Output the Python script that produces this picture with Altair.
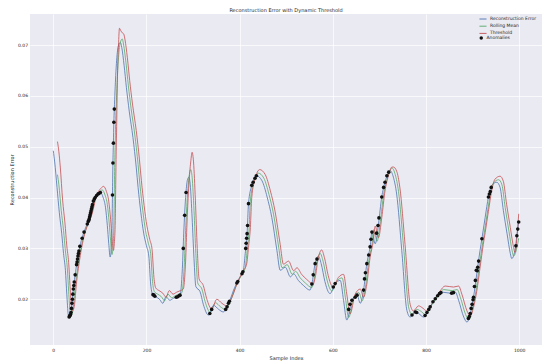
import altair as alt
import pandas as pd

# Reconstruction error (sample index, value)
recon_idx = [0, 3, 8, 13, 18, 22, 26, 29, 32, 34, 38, 43, 48, 54, 60, 65, 70, 76, 80, 85, 90, 95, 101, 107, 112, 116, 119, 122, 124, 126, 127, 128, 129, 130, 131, 134, 138, 141, 144, 147, 152, 157, 163, 171, 178, 182, 188, 194, 200, 205, 209, 213, 220, 228, 235, 242, 250, 258, 266, 272, 277, 280, 284, 288, 291, 294, 298, 302, 306, 315, 322, 333, 344, 355, 365, 373, 380, 387, 394, 401, 408, 412, 416, 419, 426, 436, 448, 459, 469, 480, 487, 498, 509, 516, 526, 537, 551, 555, 562, 569, 575, 583, 590, 594, 605, 616, 623, 630, 641, 652, 659, 666, 673, 680, 684, 691, 698, 705, 712, 720, 723, 730, 737, 748, 759, 766, 777, 784, 795, 809, 823, 834, 852, 863, 870, 881, 888, 895, 902, 909, 916, 920, 927, 934, 941, 952, 959, 966, 974, 981, 984, 991, 995, 999]
recon_val = [.0492, .0470, .0420, .0370, .0330, .0290, .0257, .0210, .0170, .0163, .0172, .0220, .0255, .0290, .0315, .0330, .0342, .0355, .0370, .0390, .0400, .0406, .0410, .0400, .0381, .0345, .0310, .0283, .0295, .0339, .0405, .0468, .0507, .0548, .0574, .0640, .0690, .0702, .0705, .0695, .0660, .0616, .0570, .0518, .0460, .0420, .0370, .0330, .0305, .0285, .0230, .0210, .0205, .0200, .0192, .0205, .0198, .0202, .0205, .0208, .0260, .0330, .0400, .0435, .0440, .0425, .0360, .0280, .0225, .0215, .0190, .0169, .0188, .0180, .0175, .0185, .0200, .0218, .0232, .0244, .0257, .0290, .0329, .0388, .0424, .0443, .0433, .0401, .0361, .0296, .0257, .0263, .0244, .0250, .0237, .0227, .0218, .0230, .0270, .0285, .0270, .0235, .0215, .0211, .0231, .0237, .0198, .0159, .0198, .0208, .0192, .0218, .0270, .0303, .0332, .0309, .0348, .0401, .0430, .0450, .0453, .0440, .0407, .0296, .0178, .0165, .0175, .0172, .0165, .0185, .0204, .0214, .0212, .0214, .0198, .0165, .0155, .0172, .0204, .0250, .0296, .0319, .0361, .0401, .0424, .0430, .0420, .0375, .0329, .0290, .0280, .0296, .0325, .0352]

# Rolling mean
mean_idx = [9, 12, 17, 22, 26, 30, 33, 36, 38, 42, 47, 52, 58, 64, 69, 74, 80, 84, 89, 94, 99, 105, 111, 116, 120, 123, 126, 128, 130, 131, 132, 133, 134, 135, 138, 142, 145, 148, 151, 156, 161, 167, 175, 182, 186, 192, 198, 204, 209, 213, 217, 224, 232, 239, 246, 254, 262, 270, 276, 281, 284, 288, 292, 295, 298, 302, 306, 310, 319, 326, 337, 348, 359, 369, 377, 384, 391, 398, 405, 412, 416, 420, 423, 430, 440, 452, 463, 473, 484, 491, 502, 513, 520, 530, 541, 555, 559, 566, 573, 579, 587, 594, 598, 609, 620, 627, 634, 645, 656, 663, 670, 677, 684, 688, 695, 702, 709, 716, 724, 727, 734, 741, 752, 763, 770, 781, 788, 799, 813, 827, 838, 856, 867, 874, 885, 892, 899, 906, 913, 920, 924, 931, 938, 945, 956, 963, 970, 978, 985, 988, 995, 999]
mean_val = [.0445, .0425, .0375, .0335, .0295, .0262, .0215, .0175, .0168, .0177, .0225, .0260, .0295, .0320, .0335, .0347, .0360, .0375, .0395, .0405, .0411, .0415, .0405, .0386, .0350, .0315, .0288, .0300, .0344, .0410, .0473, .0512, .0553, .0579, .0645, .0695, .0708, .0712, .0700, .0665, .0621, .0575, .0523, .0465, .0425, .0375, .0335, .0310, .0290, .0235, .0215, .0210, .0205, .0197, .0210, .0203, .0207, .0210, .0213, .0265, .0335, .0405, .0445, .0455, .0440, .0375, .0290, .0232, .0220, .0195, .0174, .0193, .0185, .0180, .0190, .0205, .0223, .0237, .0249, .0262, .0295, .0334, .0393, .0429, .0448, .0438, .0406, .0366, .0301, .0262, .0268, .0249, .0255, .0242, .0232, .0223, .0235, .0275, .0290, .0275, .0240, .0220, .0216, .0236, .0242, .0203, .0164, .0203, .0213, .0197, .0223, .0275, .0308, .0337, .0314, .0353, .0406, .0435, .0455, .0458, .0445, .0412, .0301, .0183, .0170, .0180, .0177, .0170, .0190, .0209, .0219, .0217, .0219, .0203, .0170, .0160, .0177, .0209, .0255, .0301, .0324, .0366, .0406, .0429, .0435, .0425, .0380, .0334, .0295, .0285, .0301, .0320]

# Dynamic threshold
thr_idx = [9, 12, 15, 20, 25, 29, 33, 36, 39, 41, 45, 50, 55, 61, 67, 72, 77, 83, 87, 92, 97, 102, 108, 114, 119, 123, 126, 129, 131, 133, 134, 135, 136, 137, 138, 140, 142, 145, 148, 151, 154, 159, 164, 170, 178, 185, 189, 195, 201, 207, 212, 216, 220, 227, 235, 242, 249, 257, 265, 273, 279, 284, 287, 291, 295, 298, 301, 305, 309, 313, 322, 329, 340, 351, 362, 372, 380, 387, 394, 401, 408, 415, 419, 423, 426, 433, 443, 455, 466, 476, 487, 494, 505, 516, 523, 533, 544, 558, 562, 569, 576, 582, 590, 597, 601, 612, 623, 630, 637, 648, 659, 666, 673, 680, 687, 691, 698, 705, 712, 719, 727, 730, 737, 744, 755, 766, 773, 784, 791, 802, 816, 830, 841, 859, 870, 877, 888, 895, 902, 909, 916, 923, 927, 934, 941, 948, 959, 966, 973, 981, 988, 991, 996, 999]
thr_val = [.0510, .0490, .0460, .0395, .0350, .0305, .0272, .0225, .0185, .0177, .0186, .0234, .0268, .0302, .0327, .0342, .0354, .0367, .0382, .0402, .0412, .0418, .0422, .0412, .0393, .0357, .0322, .0296, .0310, .0355, .0425, .0490, .0540, .0600, .0650, .0700, .0733, .0728, .0724, .0722, .0710, .0675, .0630, .0584, .0532, .0474, .0434, .0384, .0344, .0318, .0298, .0243, .0222, .0217, .0212, .0204, .0217, .0210, .0214, .0217, .0220, .0275, .0350, .0425, .0470, .0489, .0470, .0395, .0300, .0240, .0227, .0202, .0181, .0200, .0192, .0187, .0197, .0212, .0230, .0244, .0256, .0269, .0302, .0341, .0400, .0436, .0455, .0445, .0413, .0373, .0308, .0269, .0275, .0256, .0262, .0249, .0239, .0230, .0242, .0282, .0297, .0282, .0247, .0227, .0223, .0243, .0249, .0210, .0171, .0210, .0220, .0204, .0230, .0282, .0315, .0344, .0321, .0360, .0413, .0442, .0460, .0460, .0452, .0419, .0308, .0190, .0177, .0187, .0184, .0177, .0197, .0216, .0226, .0224, .0226, .0210, .0177, .0167, .0184, .0216, .0262, .0308, .0331, .0373, .0413, .0436, .0442, .0432, .0387, .0341, .0302, .0292, .0330, .0368]

# Anomalies
anom_idx = [34, 35, 36, 37, 38, 39, 40, 41, 42, 43, 44, 45, 47, 50, 51, 52, 53, 54, 55, 57, 62, 66, 73, 75, 76, 77, 78, 79, 80, 81, 82, 83, 84, 86, 88, 90, 93, 96, 98, 101, 127, 128, 129, 130, 131, 214, 216, 218, 264, 267, 270, 272, 279, 282, 285, 336, 340, 370, 373, 376, 378, 394, 396, 405, 407, 413, 414, 415, 416, 417, 419, 426, 429, 433, 436, 555, 558, 562, 566, 601, 605, 634, 637, 641, 648, 652, 666, 668, 670, 673, 677, 680, 682, 684, 694, 697, 699, 705, 709, 712, 716, 720, 770, 777, 780, 798, 802, 806, 809, 815, 820, 825, 829, 832, 855, 859, 891, 893, 895, 897, 899, 901, 902, 904, 906, 908, 910, 911, 913, 920, 934, 936, 938, 940, 993, 995, 997, 999]
anom_val = [.0165, .0167, .0168, .0170, .0174, .0182, .0192, .0200, .0210, .0220, .0227, .0234, .0248, .0268, .0273, .0279, .0285, .0290, .0295, .0304, .0320, .0332, .0348, .0353, .0355, .0358, .0362, .0366, .0370, .0374, .0378, .0382, .0386, .0393, .0397, .0400, .0404, .0407, .0408, .0410, .0405, .0468, .0507, .0548, .0574, .0209, .0208, .0206, .0204, .0205, .0207, .0208, .0300, .0365, .0410, .0172, .0180, .0180, .0185, .0192, .0196, .0232, .0235, .0250, .0254, .0300, .0310, .0320, .0329, .0345, .0388, .0424, .0430, .0438, .0443, .0230, .0248, .0270, .0279, .0224, .0231, .0180, .0190, .0198, .0204, .0208, .0218, .0240, .0252, .0270, .0287, .0303, .0318, .0332, .0330, .0345, .0360, .0401, .0420, .0430, .0443, .0450, .0169, .0175, .0174, .0168, .0174, .0180, .0185, .0195, .0201, .0207, .0211, .0213, .0212, .0213, .0162, .0166, .0172, .0182, .0190, .0199, .0204, .0225, .0237, .0257, .0256, .0263, .0275, .0319, .0401, .0407, .0412, .0420, .0305, .0325, .0338, .0352]

line_names = ["Reconstruction Error", "Rolling Mean", "Threshold"]
line_colors = ["#4c72b0", "#55a868", "#c44e52"]
anom_name = "Anomalies"
x_ticks = [0, 200, 400, 600, 800, 1000]
y_ticks = [0.02, 0.03, 0.04, 0.05, 0.06, 0.07]

lines = pd.concat([
    pd.DataFrame({"idx": recon_idx, "val": recon_val, "series": line_names[0]}),
    pd.DataFrame({"idx": mean_idx, "val": mean_val, "series": line_names[1]}),
    pd.DataFrame({"idx": thr_idx, "val": thr_val, "series": line_names[2]}),
], ignore_index=True)
anom = pd.DataFrame({"idx": anom_idx, "val": anom_val, "lab": anom_name})

FONT = "DejaVu Sans"
TXT = "#262626"
LEG_X = 449
LEG_Y = 1
ROW = 6.6

xenc = alt.X("idx:Q",
             scale=alt.Scale(domain=[-50, 1049], nice=False, zero=False),
             axis=alt.Axis(values=x_ticks, title="Sample Index", format="d"))
yenc = alt.Y("val:Q",
             scale=alt.Scale(domain=[0.011, 0.0761], nice=False, zero=False),
             axis=alt.Axis(values=y_ticks, title="Reconstruction Error", format=".2f"))

line_layer = alt.Chart(lines).mark_line(strokeWidth=0.8, interpolate="monotone", clip=True).encode(
    x=xenc,
    y=yenc,
    color=alt.Color("series:N",
                    scale=alt.Scale(domain=line_names, range=line_colors),
                    legend=alt.Legend(title=None, orient="none", legendX=LEG_X, legendY=LEG_Y,
                                      symbolType="stroke", symbolSize=50, symbolStrokeWidth=0.9,
                                      rowPadding=1.2, padding=0)),
)

anom_layer = alt.Chart(anom).mark_point(size=13, filled=True, opacity=1, color="#111111").encode(
    x=alt.X("idx:Q"), y=alt.Y("val:Q"),
    shape=alt.Shape("lab:N", scale=alt.Scale(domain=[anom_name], range=["circle"]),
                    legend=alt.Legend(title=None, orient="none", legendX=LEG_X,
                                      legendY=LEG_Y + 3 * ROW + 1,
                                      symbolSize=12, symbolFillColor="#111111",
                                      symbolStrokeWidth=0, padding=0)),
)

chart = alt.layer(line_layer, anom_layer).properties(
    width=512, height=331,
    background="#ffffff",
    title=alt.TitleParams("Reconstruction Error with Dynamic Threshold", fontSize=5,
                          font=FONT, fontWeight="normal", color=TXT, offset=1),
    autosize=alt.AutoSizeParams(type="none"),
    padding={"left": 22, "top": 6, "right": 0, "bottom": 19},
).configure_view(
    fill="#eaeaf2", strokeWidth=0
).configure_axis(
    grid=True, gridColor="#ffffff", gridWidth=0.7, domain=False, ticks=False,
    labelFontSize=4.5, labelFont=FONT, labelColor=TXT, labelPadding=2.5,
    titleFontSize=5, titleFont=FONT, titleColor=TXT, titleFontWeight="normal", titlePadding=3,
).configure_legend(
    labelFontSize=4.5, labelFont=FONT, labelColor=TXT, labelOffset=3,
)

chart.save("out.html", embed_options={"renderer": "svg", "actions": False})
